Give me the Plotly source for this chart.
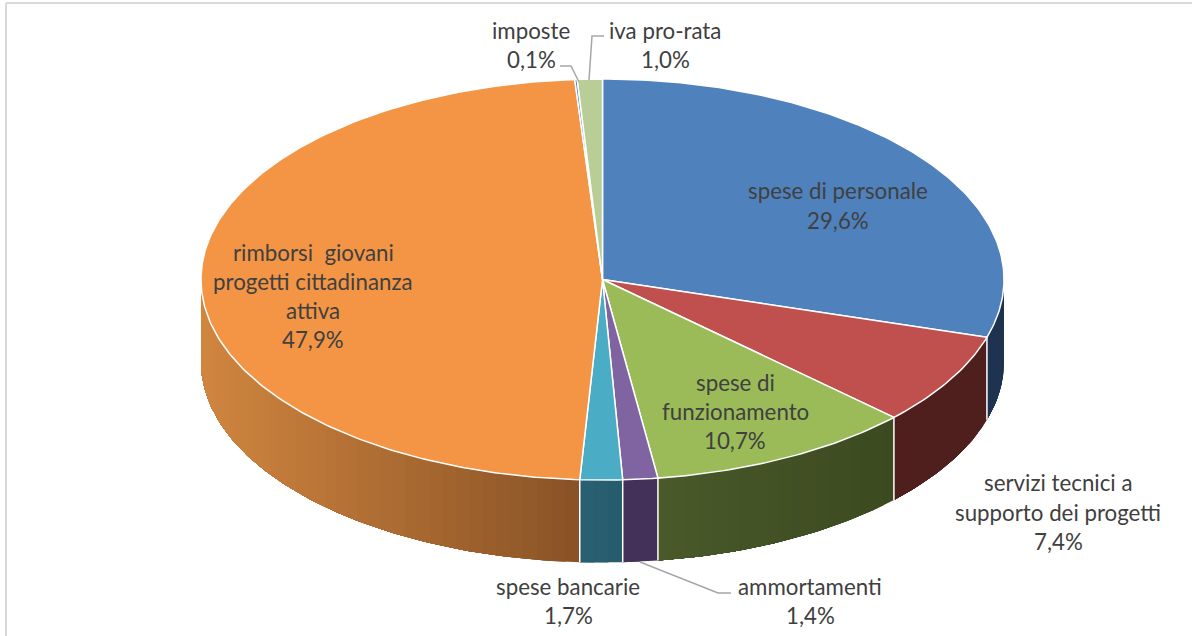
import math
import plotly.graph_objects as go

# ---- data ----
labels = ["spese di personale", "servizi tecnici a supporto dei progetti", "spese di funzionamento",
          "ammortamenti", "spese bancarie", "rimborsi giovani progetti cittadinanza attiva",
          "imposte", "iva pro-rata"]
values = [29.6, 7.4, 10.7, 1.4, 1.7, 47.9, 0.1, 1.0]
value_text = ["29,6%", "7,4%", "10,7%", "1,4%", "1,7%", "47,9%", "0,1%", "1,0%"]

# ---- styles / layout ----
top_colors = ["#4f81bd", "#c0504d", "#9bbb59", "#8064a2", "#4bacc6", "#f49546", "#4f81bd", "#b9cd96"]
# wall colour at the left and the right end of each slice's visible side
wall_left = {0: "#1d334f", 1: "#4f1f1d", 2: "#4a5a2a", 3: "#44315a", 4: "#2a6273", 5: "#d18640"}
wall_right = {0: "#1d334f", 1: "#4f1f1d", 2: "#3c4a20", 3: "#44315a", 4: "#275c6c", 5: "#8a5326"}
CX, CY, RX, RY, DEPTH = 602.5, 279.5, 401.5, 200.5, 82.5
TEXT = "#404040"
FONT = "Lato"
FS = 22.3
GRAY = "#a6a6a6"
label_lines = [
    (838, [(190, "spese di personale"), (220, value_text[0])]),
    (1058, [(482, "servizi tecnici a"), (512, "supporto dei progetti"), (541, value_text[1])]),
    (735, [(382, "spese di"), (411, "funzionamento"), (440, value_text[2])]),
    (810, [(586, "ammortamenti"), (615, value_text[3])]),
    (568, [(586, "spese bancarie"), (615, value_text[4])]),
    (313, [(252, "rimborsi\u00a0 giovani"), (281, "progetti cittadinanza"), (310, "attiva"), (339, value_text[5])]),
    (531, [(30, "imposte"), (59, value_text[6])]),
    (665, [(30, "iva pro-rata"), (59, value_text[7])]),
]
leaders = [
    ([560, 571, 579], [66, 66, 82]),
    ([604, 592, 589], [36, 36, 80]),
    ([640, 718, 731], [562, 593, 593]),
]


def pt(t):
    return CX + RX * math.sin(t), CY - RY * math.cos(t)


def mix(c1, c2, f):
    a = [int(c1[i:i + 2], 16) for i in (1, 3, 5)]
    b = [int(c2[i:i + 2], 16) for i in (1, 3, 5)]
    return "#%02x%02x%02x" % tuple(round(a[i] + (b[i] - a[i]) * f) for i in range(3))


total = sum(values)
edges = [0.0]
for v in values:
    edges.append(edges[-1] + v / total * 2 * math.pi)

fig = go.Figure()


def poly(xs, ys, fill, line=None, width=0):
    fig.add_trace(go.Scatter(x=xs, y=ys, mode="lines", fill="toself", fillcolor=fill,
                             line=dict(color=line or fill, width=width), hoverinfo="skip",
                             showlegend=False))


# side walls (only the front half of the ellipse is visible), in shaded strips.
# Each strip runs on to the far end of its slice, and the next strip paints over it, so no seams show.
for i in range(len(values)):
    a = max(edges[i], math.pi / 2)
    b = min(edges[i + 1], 3 * math.pi / 2)
    if a >= b:
        continue
    n = max(2, int((b - a) / math.radians(2.0)))
    x_hi, _ = pt(a)
    x_lo, _ = pt(b)
    for k in range(n):
        t0 = a + (b - a) * k / n
        m = max(3, (n - k) * 2)
        sub = [t0 + (b - t0) * j / m for j in range(m + 1)]
        top = [pt(t) for t in sub]
        xs = [p[0] for p in top] + [p[0] for p in reversed(top)]
        ys = [p[1] for p in top] + [p[1] + DEPTH for p in reversed(top)]
        f = (top[0][0] - x_lo) / max(1, x_hi - x_lo)
        poly(xs, ys, mix(wall_left[i], wall_right[i], f), width=0)

# white separators on the wall
for i in range(1, len(edges) - 1):
    t = edges[i]
    if math.pi / 2 < t < 3 * math.pi / 2:
        x, y = pt(t)
        fig.add_trace(go.Scatter(x=[x, x], y=[y, y + DEPTH], mode="lines",
                                 line=dict(color="#ffffff", width=1.5), hoverinfo="skip",
                                 showlegend=False))

# top face
for i in range(len(values)):
    a, b = edges[i], edges[i + 1]
    n = max(2, int((b - a) / math.radians(0.8)))
    arc = [pt(a + (b - a) * k / n) for k in range(n + 1)]
    xs = [CX] + [p[0] for p in arc] + [CX]
    ys = [CY] + [p[1] for p in arc] + [CY]
    poly(xs, ys, top_colors[i], line="#ffffff", width=1.5)

# leader lines
for xs, ys in leaders:
    fig.add_trace(go.Scatter(x=xs, y=ys, mode="lines", line=dict(color=GRAY, width=1.5),
                             hoverinfo="skip", showlegend=False))

# labels
for x, rows in label_lines:
    for y, s in rows:
        fig.add_annotation(x=x, y=y, text=s, showarrow=False, xanchor="center", yanchor="middle",
                           font=dict(family=FONT, size=FS, color=TEXT))

# frame
fig.add_shape(type="line", x0=6, x1=1192, y0=3, y1=3, line=dict(color="#d9d9d9", width=2))
fig.add_shape(type="line", x0=6, x1=6, y0=3, y1=636, line=dict(color="#d9d9d9", width=2))

fig.update_layout(
    width=1192, height=636, autosize=False,
    margin=dict(l=0, r=0, t=0, b=0),
    paper_bgcolor="#ffffff", plot_bgcolor="#ffffff", showlegend=False,
    xaxis=dict(range=[0, 1192], visible=False, fixedrange=True),
    yaxis=dict(range=[636, 0], visible=False, fixedrange=True),
)
fig.write_html("out.html", config={"displayModeBar": False},
               post_script="document.body.style.margin='0';document.body.style.overflow='hidden';window.scrollTo(0,0);")
